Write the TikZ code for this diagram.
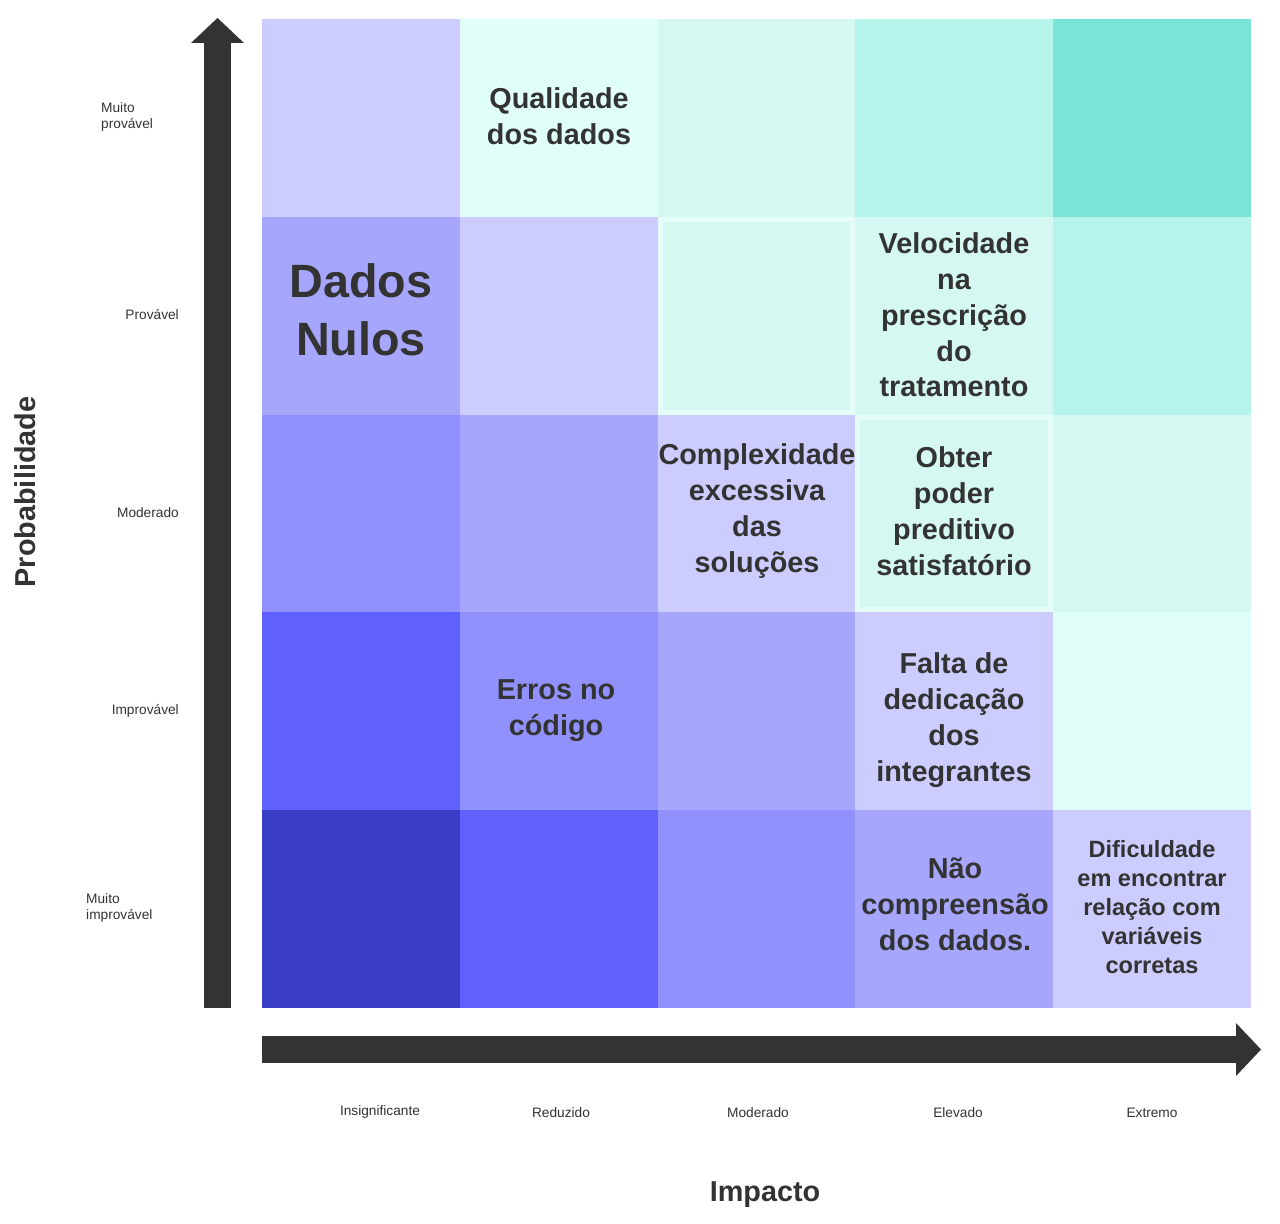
\documentclass[tikz,border=0pt]{standalone}
\usepackage{fontspec}
\setmainfont{Liberation Sans}
\usetikzlibrary{arrows.meta}

\definecolor{ink}{HTML}{333333}
\definecolor{lavA}{HTML}{CCCCFE}
\definecolor{lavB}{HTML}{A6A6FD}
\definecolor{lavC}{HTML}{9191FD}
\definecolor{lavD}{HTML}{6060FE}
\definecolor{lavE}{HTML}{3A3EC6}
\definecolor{cyA}{HTML}{E1FFFA}
\definecolor{cyB}{HTML}{D5F8F2}
\definecolor{cyC}{HTML}{B5F4EA}
\definecolor{cyD}{HTML}{79E4D8}
\definecolor{cyF}{HTML}{E4FDF9}

\begin{document}
\begin{tikzpicture}[
    x=0.02cm, y=-0.02cm,
    cell/.style={rectangle, minimum size=3.956cm, inner sep=0pt, outer sep=0pt},
    frame/.style={draw=cyF, line width=0.1cm},
    risk/.style={text=ink, align=center, font=\fontsize{16.4}{20.4}\selectfont\bfseries},
    lvl/.style={text=ink, align=left, font=\fontsize{7.8}{9.6}\selectfont},
    title/.style={text=ink, font=\fontsize{16.4}{20}\selectfont\bfseries},
    axis/.style={draw=ink, line width=0.54cm, -{Triangle[length=0.5cm, width=1.06cm, line width=0pt]}}
  ]
    \useasboundingbox (0,0) rectangle (1280,1223);

    % matriz de risco
    \foreach \r/\c/\col in {1/1/lavA, 1/2/cyA, 1/3/cyB, 1/4/cyC, 1/5/cyD,
                            2/1/lavB, 2/2/lavA, 2/3/cyB, 2/4/cyB, 2/5/cyC,
                            3/1/lavC, 3/2/lavB, 3/3/lavA, 3/4/cyB, 3/5/cyB,
                            4/1/lavD, 4/2/lavC, 4/3/lavB, 4/4/lavA, 4/5/cyA,
                            5/1/lavE, 5/2/lavD, 5/3/lavC, 5/4/lavB, 5/5/lavA}
      \node[cell, fill=\col] (c\r\c) at ({262+197.8*(\c-0.5)}, {19+197.8*(\r-0.5)}) {};
    \foreach \n in {c23, c34}
      \draw[frame] ([shift={(2.5,2.5)}]\n.north west) rectangle ([shift={(-2.5,-2.5)}]\n.south east);

    % riscos
    \node[risk] (qualidade) at (559,116) {Qualidade\\dos dados};
    \node[risk, font=\fontsize{26.6}{33}\selectfont\bfseries] (nulos) at (361,310) {Dados\\Nulos};
    \node[risk] (velocidade) at (954,315) {Velocidade\\na\\prescrição\\do\\tratamento};
    \node[risk] (complexidade) at (757,511) {Complexidade\\excessiva\\das\\soluções};
    \node[risk] (obter) at (954,511) {Obter\\poder\\preditivo\\satisfatório};
    \node[risk] (erros) at (556,711) {Erros no\\código};
    \node[risk] (falta) at (954,720) {Falta de\\dedicação\\dos\\integrantes};
    \node[risk] (compreensao) at (955,904) {Não\\compreensão\\dos dados.};
    \node[risk, font=\fontsize{13.4}{16.4}\selectfont\bfseries] (dificuldade) at (1152,907)
      {Dificuldade\\em encontrar\\relação com\\variáveis\\corretas};

    % eixos
    \coordinate (ybase) at (217.5,1008);
    \coordinate (ytip) at (217.5,18);
    \coordinate (xbase) at (262,1049.5);
    \coordinate (xtip) at (1261,1049.5);
    \draw[axis] (ybase) -- (ytip);
    \draw[axis] (xbase) -- (xtip);

    % probabilidade
    \node[lvl, anchor=west] (muitoprov) at (95,117) {Muito\\provável};
    \node[lvl, anchor=east] (provavel) at (185,315) {Provável};
    \node[lvl, anchor=east] (moderadoP) at (185,513) {Moderado};
    \node[lvl, anchor=east] (improvavel) at (185,711) {Improvável};
    \node[lvl, anchor=west] (muitoimp) at (80,908) {Muito\\improvável};
    \node[title, rotate=90] (prob) at (25,492) {Probabilidade};

    % impacto
    \node[lvl] (insig) at (380,1112) {Insignificante};
    \node[lvl] (reduzido) at (561,1113) {Reduzido};
    \node[lvl] (moderadoI) at (758,1113) {Moderado};
    \node[lvl] (elevado) at (958,1113) {Elevado};
    \node[lvl] (extremo) at (1152,1113) {Extremo};
    \node[title] (impacto) at (765,1195) {Impacto};
  \end{tikzpicture}
\end{document}
